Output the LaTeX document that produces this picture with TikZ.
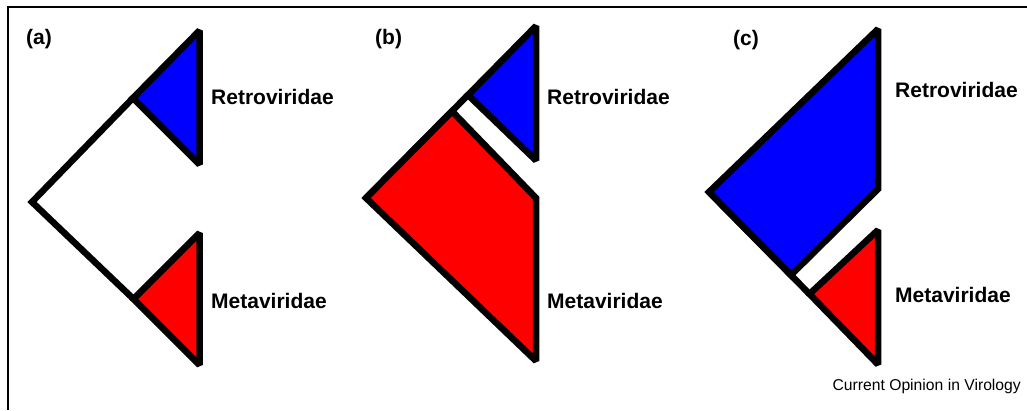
\documentclass[tikz,border=0pt]{standalone}
\usepackage{fontspec}
\setmainfont{Liberation Sans}
\begin{document}
\begin{tikzpicture}[x=1pt,y=-1pt,line join=miter,miter limit=2,
  edge/.style={line width=6.5pt,draw=black},
  clade/.style={edge,fill=#1},
  taxon/.style={anchor=base west,inner sep=0pt,font=\fontsize{21}{24}\selectfont\bfseries},
  plabel/.style={anchor=base west,inner sep=0pt,font=\fontsize{21}{24}\selectfont\bfseries},
  credit/.style={anchor=base east,inner sep=0pt,font=\fontsize{15.7}{18}\selectfont}]
\useasboundingbox (0,0) rectangle (1027,410);
% frame
\coordinate (fbl) at (8,410);
\coordinate (ftl) at (8,6.8);
\coordinate (ftr) at (1027,6.8);
\draw[line width=1.6pt] (fbl) -- (ftl) -- (ftr);

% ---------- panel (a)
\coordinate (aR) at (32,202);
\coordinate (aU) at (133,98);
\coordinate (aT1) at (199.5,30.5);
\coordinate (aB1) at (199.5,164.5);
\coordinate (aL) at (133.5,299);
\coordinate (aT2) at (199.5,233);
\coordinate (aB2) at (199.5,365);
\path[clade=blue] (aU) -- (aT1) -- (aB1) -- cycle;
\path[clade=red] (aL) -- (aT2) -- (aB2) -- cycle;
\draw[edge] (aU) -- (aR) -- (aL);

% ---------- panel (b)
\coordinate (bR) at (366,198);
\coordinate (bU) at (468,95);
\coordinate (bT) at (536,26);
\coordinate (bB) at (536,160.5);
\coordinate (bP) at (452,111.2);
\coordinate (bQ) at (536,198);
\coordinate (bS) at (536,361);
\path[clade=blue] (bU) -- (bT) -- (bB) -- cycle;
\path[clade=red] (bR) -- (bP) -- (bQ) -- (bS) -- cycle;
\draw[edge] (bR) -- (bU);

% ---------- panel (c)
\coordinate (cR) at (709,192);
\coordinate (cT) at (878,29);
\coordinate (cQ) at (878,189);
\coordinate (cP) at (791,275);
\coordinate (cA) at (809.5,294);
\coordinate (cRT) at (878,230);
\coordinate (cRB) at (878,364.5);
\path[clade=blue] (cR) -- (cT) -- (cQ) -- (cP) -- cycle;
\path[clade=red] (cA) -- (cRT) -- (cRB) -- cycle;
\draw[edge] (cR) -- (cA);

% ---------- labels
\node[plabel] (la) at (26,44) {(a)};
\node[plabel] (lb) at (375,44) {(b)};
\node[plabel] (lc) at (733,45) {(c)};
\node[taxon] (aRetro) at (211,104) {Retroviridae};
\node[taxon] (aMeta) at (211,308) {Metaviridae};
\node[taxon] (bRetro) at (547,104) {Retroviridae};
\node[taxon] (bMeta) at (547,308) {Metaviridae};
\node[taxon] (cRetro) at (895,97) {Retroviridae};
\node[taxon] (cMeta) at (895,302) {Metaviridae};
\node[credit] (cred) at (1021,390) {Current Opinion in Virology};
\end{tikzpicture}
\end{document}
